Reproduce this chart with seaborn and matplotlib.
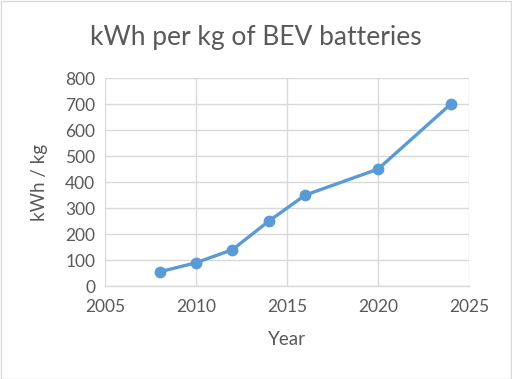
import seaborn as sns
import matplotlib.pyplot as plt
import pandas as pd
from matplotlib.patches import Rectangle

# Data
years = [2008, 2010, 2012, 2014, 2016, 2020, 2024]
kwh_per_kg = [55, 90, 140, 250, 350, 450, 700]

x_ticks = [2005, 2010, 2015, 2020, 2025]
y_ticks = [0, 100, 200, 300, 400, 500, 600, 700, 800]

TEXT = '#595959'
GRID = '#d9d9d9'
LINE = '#5b9bd5'

sns.set_theme(style='white')
plt.rcParams['font.family'] = ['Lato', 'DejaVu Sans']

df = pd.DataFrame({'Year': years, 'kWh / kg': kwh_per_kg})

fig = plt.figure(figsize=(5.12, 3.79), dpi=100)
ax = fig.add_axes([0.205, 0.245, 0.711, 0.549])

sns.lineplot(data=df, x='Year', y='kWh / kg', ax=ax, color=LINE,
             linewidth=2.4, marker='o', markersize=8.5, markeredgewidth=0)

ax.set_xlim(2005, 2025)
ax.set_ylim(0, 800)
ax.set_xticks(x_ticks)
ax.set_yticks(y_ticks)
ax.grid(True, color=GRID, linewidth=1)
ax.set_axisbelow(True)
for side in ['top', 'right', 'left']:
    ax.spines[side].set_visible(False)
ax.spines['bottom'].set_color(GRID)
ax.spines['bottom'].set_linewidth(1)
ax.tick_params(axis='both', length=0, labelsize=12.5, colors=TEXT)
ax.tick_params(axis='x', pad=9)
ax.tick_params(axis='y', pad=7)

ax.set_xlabel('Year', fontsize=13.5, color=TEXT, labelpad=12)
ax.set_ylabel('kWh / kg', fontsize=13.5, color=TEXT, labelpad=12)
fig.suptitle('kWh per kg of BEV batteries', x=0.5, y=0.935, va='top', fontsize=19, color=TEXT)

# chart frame
fig.patches.append(Rectangle((0.001, 0.001), 0.997, 0.997, transform=fig.transFigure,
                             fill=False, edgecolor=GRID, linewidth=1))

fig.savefig('out.png', dpi=100)
